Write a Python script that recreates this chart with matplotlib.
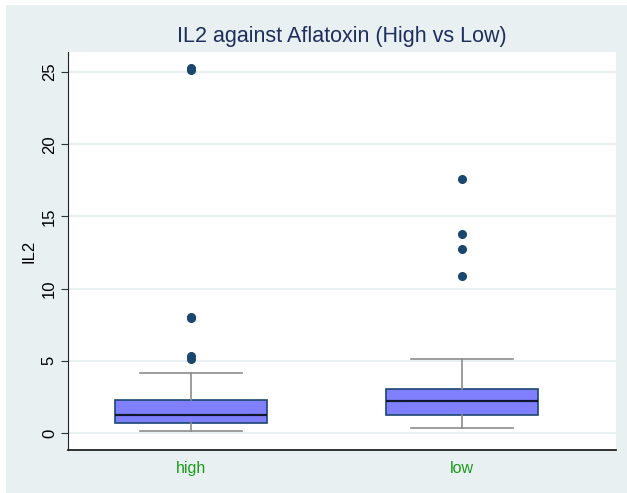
#!/usr/bin/env python3
import matplotlib
matplotlib.use("Agg")
import matplotlib.pyplot as plt
from matplotlib.patches import Rectangle

# box summaries
groups = ["high", "low"]
whislo = [0.16, 0.32]
q1 = [0.71, 1.25]
med = [1.27, 2.24]
q3 = [2.26, 3.02]
whishi = [4.18, 5.10]
fliers = [
    [5.12, 5.35, 7.95, 8.05, 25.15, 25.25],
    [10.9, 12.76, 13.76, 17.57],
]
yticks = [0, 5, 10, 15, 20, 25]

bg = "#E8F0F2"
navy = "#1A476F"

plt.rcParams["font.family"] = ["Liberation Sans", "DejaVu Sans"]

fig = plt.figure(figsize=(6.27, 4.93), dpi=100, facecolor="white")
fig.patches.append(Rectangle((6 / 627, 0), 1, 1 - 5 / 493, transform=fig.transFigure,
                             facecolor=bg, edgecolor="none", zorder=-10))
ax = fig.add_axes([68 / 627, 43 / 493, 548 / 627, 398 / 493])
ax.set_facecolor("white")

stats = []
for i, g in enumerate(groups):
    stats.append(dict(label=g, whislo=whislo[i], q1=q1[i], med=med[i], q3=q3[i],
                      whishi=whishi[i], fliers=fliers[i]))

ax.bxp(stats, positions=[1, 2], widths=0.561, capwidths=0.376, patch_artist=True,
       boxprops=dict(facecolor="#8080FF", edgecolor=navy, linewidth=1.2),
       medianprops=dict(color="#101830", linewidth=1.6),
       whiskerprops=dict(color="#8C8C8C", linewidth=1.2),
       capprops=dict(color="#8C8C8C", linewidth=1.2),
       flierprops=dict(marker="o", markerfacecolor=navy, markeredgecolor=navy,
                       markersize=5.5))

ax.set_xlim(0.546, 2.568)
ax.set_ylim(-1.18, 26.39)
ax.set_yticks(yticks)
ax.set_yticklabels([str(t) for t in yticks], rotation=90, va="center", fontsize=12)
ax.tick_params(axis="y", length=5, width=0.8, color="#333333", pad=3)
ax.tick_params(axis="x", length=0, pad=8, labelsize=11.5, labelcolor="#1E9A1E")
ax.grid(axis="y", color=bg, linewidth=1.5)
ax.set_axisbelow(True)

for side in ["top", "right"]:
    ax.spines[side].set_visible(False)
ax.spines["left"].set_color("#222222")
ax.spines["bottom"].set_color("#222222")
ax.spines["bottom"].set_linewidth(1.3)

ax.set_ylabel("IL2", fontsize=12, labelpad=4)
ax.set_title("IL2 against Aflatoxin (High vs Low)", fontsize=15.5, color="#1F2D5C", pad=7)

fig.savefig("out.png", dpi=100, facecolor=fig.get_facecolor())
